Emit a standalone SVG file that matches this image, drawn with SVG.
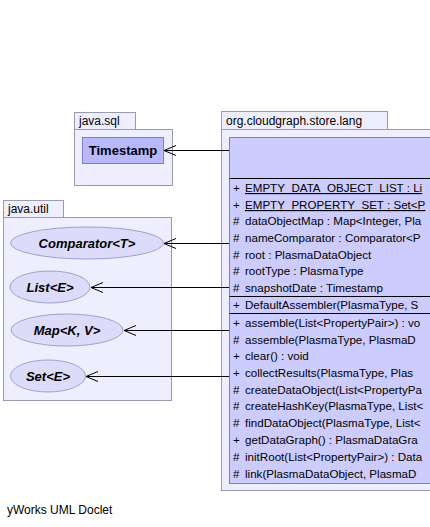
<svg xmlns="http://www.w3.org/2000/svg" width="430" height="527" viewBox="0 0 430 527">
<style>
text{font-family:"Liberation Sans",Arial,sans-serif;fill:#000}
.pkg{fill:#eeeeff;stroke:#9a9ab0;stroke-width:1}
.lbl{font-size:12px}
.cls{fill:#ccccff;stroke:#8080b0;stroke-width:1}
.sep{stroke:#000;stroke-width:1}
.row{font-size:11.6px}
.ell{fill:#dcdcfa;stroke:#a0a0c8;stroke-width:1}
.et{font-size:13px;font-weight:bold;font-style:italic;text-anchor:middle}
.edge{stroke:#000;stroke-width:1;fill:none}
.u{text-decoration:underline}
</style>
<defs>
<marker id="open" markerWidth="14" markerHeight="12" refX="13" refY="6" orient="auto" markerUnits="userSpaceOnUse">
<path d="M1,1 L13,6 L1,11" fill="none" stroke="#000" stroke-width="1"/>
</marker>
</defs>
<rect width="430" height="527" fill="#fff"/>

<g id="pkg-java-sql">
<rect class="pkg" x="74.5" y="112.5" width="61" height="17"/>
<rect class="pkg" x="74.5" y="129.5" width="98" height="56"/>
<text class="lbl" x="79" y="125">java.sql</text>
</g>
<g id="Timestamp">
<rect x="82.5" y="137.5" width="81" height="26" fill="#b8b8ff" stroke="#8080c0"/>
<text x="123" y="155" font-size="13" font-weight="bold" text-anchor="middle">Timestamp</text>
</g>

<g id="pkg-java-util">
<rect class="pkg" x="3.5" y="200.5" width="60" height="17"/>
<rect class="pkg" x="3.5" y="217.5" width="168" height="183"/>
<text class="lbl" x="8" y="213">java.util</text>
</g>
<g id="Comparator">
<ellipse class="ell" cx="87" cy="243" rx="76.5" ry="16"/>
<text class="et" x="87" y="248">Comparator&lt;T&gt;</text>
</g>
<g id="List">
<ellipse class="ell" cx="50" cy="287" rx="40" ry="16"/>
<text class="et" x="50" y="292">List&lt;E&gt;</text>
</g>
<g id="Map">
<ellipse class="ell" cx="67" cy="330" rx="56" ry="16"/>
<text class="et" x="67" y="335">Map&lt;K, V&gt;</text>
</g>
<g id="Set">
<ellipse class="ell" cx="48" cy="376" rx="37.5" ry="16"/>
<text class="et" x="48" y="381">Set&lt;E&gt;</text>
</g>

<g id="pkg-org-cloudgraph-store-lang">
<rect class="pkg" x="221.5" y="111.5" width="166" height="18"/>
<rect class="pkg" x="221.5" y="129.5" width="220" height="361"/>
<text class="lbl" x="226" y="125">org.cloudgraph.store.lang</text>
</g>
<g id="DefaultAssembler">
<rect class="cls" x="229.5" y="137.5" width="210" height="346"/>
<line class="sep" x1="229.5" y1="178.5" x2="440" y2="178.5"/>
<line class="sep" x1="229.5" y1="296.5" x2="440" y2="296.5"/>
<line class="sep" x1="229.5" y1="313.5" x2="440" y2="313.5"/>
<g class="row">
<text x="233" y="192">+</text><text x="245" y="192" class="u">EMPTY_DATA_OBJECT_LIST : Li</text>
<text x="233" y="209">+</text><text x="245" y="209" class="u">EMPTY_PROPERTY_SET : Set&lt;P</text>
<text x="233" y="225">#</text><text x="245" y="225">dataObjectMap : Map&lt;Integer, Pla</text>
<text x="233" y="242">#</text><text x="245" y="242">nameComparator : Comparator&lt;P</text>
<text x="233" y="259">#</text><text x="245" y="259">root : PlasmaDataObject</text>
<text x="233" y="275">#</text><text x="245" y="275">rootType : PlasmaType</text>
<text x="233" y="292">#</text><text x="245" y="292">snapshotDate : Timestamp</text>
<text x="233" y="309">+</text><text x="245" y="309">DefaultAssembler(PlasmaType, S</text>
<text x="233" y="327">+</text><text x="245" y="327">assemble(List&lt;PropertyPair&gt;) : vo</text>
<text x="233" y="344">#</text><text x="245" y="344">assemble(PlasmaType, PlasmaD</text>
<text x="233" y="360">+</text><text x="245" y="360">clear() : void</text>
<text x="233" y="377">+</text><text x="245" y="377">collectResults(PlasmaType, Plas</text>
<text x="233" y="394">#</text><text x="245" y="394">createDataObject(List&lt;PropertyPa</text>
<text x="233" y="410">#</text><text x="245" y="410">createHashKey(PlasmaType, List&lt;</text>
<text x="233" y="427">#</text><text x="245" y="427">findDataObject(PlasmaType, List&lt;</text>
<text x="233" y="444">+</text><text x="245" y="444">getDataGraph() : PlasmaDataGra</text>
<text x="233" y="461">#</text><text x="245" y="461">initRoot(List&lt;PropertyPair&gt;) : Data</text>
<text x="233" y="478">#</text><text x="245" y="478">link(PlasmaDataObject, PlasmaD</text>
</g>
</g>

<g id="connectors">
<line class="edge" x1="229" y1="150.5" x2="164" y2="150.5" marker-end="url(#open)"/>
<line class="edge" x1="229" y1="243.5" x2="164" y2="243.5" marker-end="url(#open)"/>
<line class="edge" x1="229" y1="287.5" x2="91" y2="287.5" marker-end="url(#open)"/>
<line class="edge" x1="229" y1="330.5" x2="124" y2="330.5" marker-end="url(#open)"/>
<line class="edge" x1="229" y1="376.5" x2="86" y2="376.5" marker-end="url(#open)"/>
</g>

<text x="7" y="514" font-size="12">yWorks UML Doclet</text>
</svg>
